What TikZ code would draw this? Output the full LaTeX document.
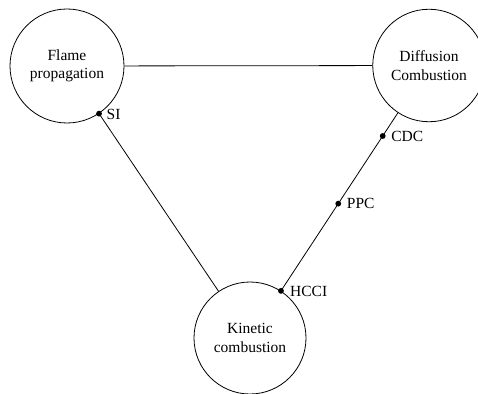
\documentclass[tikz,border=0pt]{standalone}
\usepackage{fontspec}
\setmainfont{Liberation Serif}
\begin{document}
\begin{tikzpicture}[x=1pt,y=-1pt,
  circ/.style={circle,draw,line width=0.8pt,inner sep=0pt,align=center,font=\fontsize{15.5}{18.3}\selectfont},
  conn/.style={line width=0.8pt},
  dotm/.style={circle,fill,inner sep=0pt,minimum size=5.8pt},
  lab/.style={anchor=west,inner sep=0pt,font=\fontsize{15.5}{18.3}\selectfont}]
\useasboundingbox (0,0) rectangle (478,393);
\node[circ,minimum size=114pt] (F) at (67,66) {Flame\\propagation};
\node[circ,minimum size=112.5pt] (D) at (429,65.5) {Diffusion\\Combustion};
\node[circ,minimum size=112pt] (K) at (250,338) {Kinetic\\combustion};
\draw[conn] (F) -- (D);
\draw[conn] (F) -- (K) node[pos=0,dotm] (si) {};
\draw[conn] (D) -- (K) node[pos=0.13,dotm] (cdc) {} node[pos=0.51,dotm] (ppc) {} node[pos=1,dotm] (hcci) {};
\node[lab] (sil) at ([xshift=7.5pt,yshift=-0.5pt]si.center) {SI};
\node[lab] (cdcl) at ([xshift=8.5pt]cdc.center) {CDC};
\node[lab] (ppcl) at ([xshift=8.5pt]ppc.center) {PPC};
\node[lab] (hccil) at ([xshift=9pt,yshift=-1pt]hcci.center) {HCCI};
\end{tikzpicture}
\end{document}
